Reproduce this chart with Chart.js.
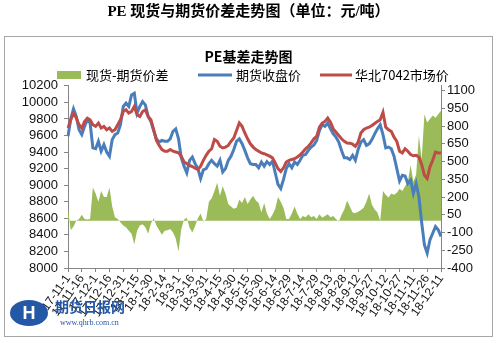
<!DOCTYPE html>
<html>
<head>
<meta charset="utf-8">
<script src="https://cdn.jsdelivr.net/npm/chart.js@4.4.0/dist/chart.umd.min.js"></script>
<style>
  html, body { margin: 0; padding: 0; background: #fff; }
  #wrap { width: 500px; height: 343px; }
</style>
</head>
<body>
<div id="wrap"><canvas id="BasisChart" width="500" height="343"></canvas></div>
<script>
var Dates = [
  "17-11-1","17-11-4","17-11-7","17-11-10","17-11-13","17-11-16","17-11-19","17-11-22","17-11-25","17-11-28",
  "17-12-1","17-12-4","17-12-7","17-12-10","17-12-13","17-12-16","17-12-19","17-12-22","17-12-25","17-12-28",
  "17-12-31","18-1-3","18-1-6","18-1-9","18-1-12","18-1-15","18-1-18","18-1-21","18-1-24","18-1-27",
  "18-1-30","18-2-2","18-2-5","18-2-8","18-2-11","18-2-14","18-2-17","18-2-20","18-2-23","18-2-26",
  "18-3-1","18-3-4","18-3-7","18-3-10","18-3-13","18-3-16","18-3-19","18-3-22","18-3-25","18-3-28",
  "18-3-31","18-4-3","18-4-6","18-4-9","18-4-12","18-4-15","18-4-18","18-4-21","18-4-24","18-4-27",
  "18-4-30","18-5-3","18-5-6","18-5-9","18-5-12","18-5-15","18-5-18","18-5-21","18-5-24","18-5-27",
  "18-5-30","18-6-2","18-6-5","18-6-8","18-6-11","18-6-14","18-6-17","18-6-20","18-6-23","18-6-26",
  "18-6-29","18-7-2","18-7-5","18-7-8","18-7-11","18-7-14","18-7-17","18-7-20","18-7-23","18-7-26",
  "18-7-29","18-8-1","18-8-4","18-8-7","18-8-10","18-8-13","18-8-16","18-8-19","18-8-22","18-8-25",
  "18-8-28","18-8-31","18-9-3","18-9-6","18-9-9","18-9-12","18-9-15","18-9-18","18-9-21","18-9-24",
  "18-9-27","18-9-30","18-10-3","18-10-6","18-10-9","18-10-12","18-10-15","18-10-18","18-10-21","18-10-24",
  "18-10-27","18-10-30","18-11-2","18-11-5","18-11-8","18-11-11","18-11-14","18-11-17","18-11-20","18-11-23",
  "18-11-26","18-11-29","18-12-2","18-12-5","18-12-8","18-12-11"
];

// 现货-期货价差 (right axis)
var Spread = [
  100,-80,-50,0,15,50,15,10,15,280,
  230,160,250,200,200,280,120,30,15,-15,
  -40,-55,-85,-110,-200,-85,-40,-30,-55,-110,
  -25,20,-40,-80,-120,-85,-80,-70,-100,-150,
  -260,-70,10,25,-60,-100,-45,20,60,-10,
  15,160,190,250,320,210,290,230,140,120,
  100,110,180,150,200,140,180,210,170,150,
  70,150,60,15,50,100,200,160,110,15,
  15,60,120,60,15,40,30,55,30,40,
  15,55,25,40,55,30,40,15,-10,50,
  95,170,120,70,65,75,90,110,160,230,
  135,95,70,0,250,220,195,230,220,235,
  270,250,290,330,470,330,390,720,520,900,
  830,860,890,870,900,930
];

// 期货收盘价 (left axis)
var Futures = [
  9590,9800,9920,9830,9670,9610,9710,9790,9750,9450,
  9440,9530,9410,9490,9400,9350,9550,9610,9630,9730,
  9950,9990,9950,10090,10110,9870,9950,10010,9970,9830,
  9770,9660,9560,9520,9540,9530,9530,9560,9650,9680,
  9560,9330,9230,9150,9300,9340,9260,9200,9080,9185,
  9200,9260,9300,9260,9230,9300,9160,9200,9300,9350,
  9430,9530,9560,9500,9420,9330,9260,9250,9250,9210,
  9280,9230,9285,9250,9290,9150,9010,8960,9070,9200,
  9260,9210,9280,9250,9300,9360,9370,9420,9460,9485,
  9540,9660,9730,9710,9750,9680,9620,9580,9520,9420,
  9330,9330,9310,9360,9300,9430,9520,9550,9480,9500,
  9550,9620,9680,9730,9610,9450,9460,9440,9350,9200,
  9050,9120,9110,9020,9060,8900,9020,8860,8550,8280,
  8180,8340,8420,8500,8460,8380
];

// 华北7042市场价 (left axis)
var Spot = [
  9690,9790,9870,9810,9730,9690,9770,9810,9790,9730,
  9710,9750,9690,9710,9670,9690,9650,9670,9730,9790,
  9890,9910,9870,9890,9950,9850,9830,9890,9910,9830,
  9790,9670,9540,9480,9430,9410,9410,9430,9410,9400,
  9390,9350,9280,9260,9240,9225,9205,9190,9230,9300,
  9360,9410,9440,9550,9530,9470,9450,9460,9480,9530,
  9570,9660,9750,9710,9630,9560,9500,9460,9430,9410,
  9390,9380,9366,9350,9330,9270,9200,9165,9210,9280,
  9300,9310,9320,9340,9366,9400,9440,9470,9510,9560,
  9590,9700,9750,9770,9810,9760,9680,9640,9600,9560,
  9530,9510,9507,9495,9470,9520,9630,9670,9690,9700,
  9720,9745,9770,9790,9880,9700,9670,9650,9580,9530,
  9410,9390,9440,9410,9370,9355,9360,9340,9250,9120,
  9080,9220,9300,9400,9390,9390
];

var LeftMin = 8000, LeftMax = 10200, LeftStep = 200;
var RightMin = -400, RightMax = 1140;
var RightTicks = [-400, -250, -100, 50, 200, 350, 500, 650, 800, 950, 1100];

var GreenFill = '#9bbb59', BlueLine = '#4a7ebb', RedLine = '#be4b48';

var FrameLegendLogo = {
  id: 'frameLegendLogo',
  beforeDraw: function(chart) {
    var ctx = chart.ctx;
    ctx.save();
    ctx.fillStyle = '#fff';
    ctx.fillRect(0, 0, chart.width, chart.height);
    ctx.strokeStyle = '#a6a6a6';
    ctx.lineWidth = 1;
    ctx.strokeRect(4.5, 36.5, 488, 300);
    ctx.restore();
  },
  afterDraw: function(chart) {
    var ctx = chart.ctx;
    var ds = chart.data.datasets;
    ctx.save();

    // legend
    ctx.font = '13px "Noto Sans CJK SC"';
    ctx.textBaseline = 'middle';
    ctx.textAlign = 'left';
    ctx.fillStyle = ds[0].backgroundColor;
    ctx.fillRect(57, 71, 24, 8);
    ctx.fillStyle = '#000';
    ctx.fillText(ds[0].label, 86, 75);

    ctx.lineWidth = 3;
    ctx.strokeStyle = ds[1].borderColor;
    ctx.beginPath();
    ctx.moveTo(198, 75);
    ctx.lineTo(232, 75);
    ctx.stroke();
    ctx.fillText(ds[1].label, 236, 75);

    ctx.strokeStyle = ds[2].borderColor;
    ctx.beginPath();
    ctx.moveTo(320, 75);
    ctx.lineTo(352, 75);
    ctx.stroke();
    ctx.fillText(ds[2].label, 355, 75);

    // logo
    ctx.fillStyle = '#2457a6';
    ctx.beginPath();
    ctx.ellipse(29, 313, 19, 13, 0, 0, Math.PI * 2);
    ctx.fill();
    ctx.fillStyle = '#fff';
    ctx.font = 'bold 18px "Liberation Sans"';
    ctx.textAlign = 'center';
    ctx.fillText('H', 29, 314);
    ctx.fillStyle = '#2457a6';
    ctx.textAlign = 'left';
    ctx.font = 'bold 14px "Noto Sans CJK SC"';
    ctx.fillText('期货日报网', 55, 307);
    ctx.font = '8px "Liberation Serif"';
    ctx.fillText('www.qhrb.com.cn', 60, 323);
    ctx.restore();
  }
};

var canvasBasis = document.getElementById('BasisChart').getContext('2d');

var basisChart = new Chart(canvasBasis, {
  type: 'line',
  data: {
    labels: Dates,
    datasets: [{
      label: '现货-期货价差',
      data: Spread,
      yAxisID: 'y1',
      backgroundColor: GreenFill,
      borderColor: GreenFill,
      borderWidth: 0,
      fill: 'origin',
      pointRadius: 0,
      tension: 0,
      order: 3
    }, {
      label: '期货收盘价',
      data: Futures,
      yAxisID: 'y',
      borderColor: BlueLine,
      backgroundColor: BlueLine,
      borderWidth: 3,
      fill: false,
      pointRadius: 0,
      tension: 0,
      order: 2
    }, {
      label: '华北7042市场价',
      data: Spot,
      yAxisID: 'y',
      borderColor: RedLine,
      backgroundColor: RedLine,
      borderWidth: 3,
      fill: false,
      pointRadius: 0,
      tension: 0,
      order: 1
    }]
  },
  options: {
    responsive: false,
    animation: false,
    layout: { padding: { left: 5, right: 8, top: 0, bottom: 6 } },
    plugins: {
      title: {
        display: true,
        text: 'PE 现货与期货价差走势图（单位：元/吨）',
        color: '#000',
        font: { family: "'Liberation Serif', 'Noto Sans CJK SC'", size: 15, weight: 'bold' },
        padding: { top: 3, bottom: 27 }
      },
      subtitle: {
        display: true,
        text: 'PE基差走势图',
        color: '#000',
        font: { family: "'Noto Sans CJK SC'", size: 14, weight: 'bold' },
        padding: { top: 0, bottom: 21 }
      },
      legend: { display: false },
      tooltip: { enabled: false }
    },
    scales: {
      x: {
        type: 'category',
        offset: false,
        afterFit: function(scale) { scale.height = 69; },
        grid: { drawOnChartArea: false, color: '#868686', tickLength: 4 },
        border: { color: '#868686' },
        ticks: {
          autoSkip: false,
          minRotation: 55,
          maxRotation: 55,
          padding: 0,
          color: '#111',
          font: { family: "'Liberation Sans'", size: 12 },
          callback: function(value, index) {
            return index % 5 === 0 ? this.getLabelForValue(value) : null;
          }
        }
      },
      y: {
        position: 'left',
        min: LeftMin,
        max: LeftMax,
        afterFit: function(scale) { scale.width = 63; },
        grid: { drawOnChartArea: false, color: '#868686', tickLength: 4 },
        border: { color: '#868686' },
        ticks: {
          stepSize: LeftStep,
          autoSkip: false,
          padding: 6,
          color: '#111',
          font: { family: "'Liberation Sans'", size: 13 },
          callback: function(value) { return String(value); }
        }
      },
      y1: {
        position: 'right',
        min: RightMin,
        max: RightMax,
        afterFit: function(scale) { scale.width = 51; },
        afterBuildTicks: function(scale) {
          scale.ticks = RightTicks.map(function(v) { return { value: v }; });
        },
        grid: { drawOnChartArea: false, color: '#868686', tickLength: 4 },
        border: { color: '#868686' },
        ticks: {
          autoSkip: false,
          padding: 2,
          color: '#111',
          font: { family: "'Liberation Sans'", size: 13 },
          callback: function(value) { return String(value); }
        }
      }
    }
  },
  plugins: [FrameLegendLogo]
});
</script>
</body>
</html>
